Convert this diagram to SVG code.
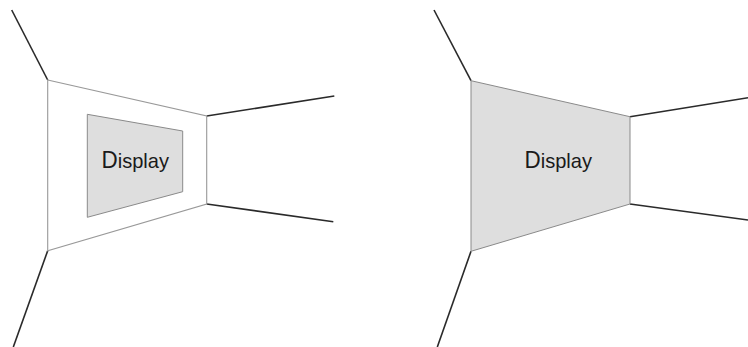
<svg xmlns="http://www.w3.org/2000/svg" width="748" height="347" viewBox="0 0 748 347">
<style>
.edge{stroke:#2a2a2a;stroke-width:1.6;fill:none}
.wall{stroke:#999;stroke-width:1.1;fill:#fff}
.screen{stroke:#8a8a8a;stroke-width:1;fill:#dedede}
.lbl{font-family:"Liberation Sans",Arial,sans-serif;font-size:21px;fill:#1a1a1a}
.cap{font-size:23.5px}
</style>
<rect width="748" height="347" fill="#fff"/>
<g id="left-room">
  <g id="left-edges">
    <line class="edge" x1="11.7" y1="10" x2="47.7" y2="80"/>
    <line class="edge" x1="47.7" y1="250.7" x2="13.3" y2="347"/>
    <line class="edge" x1="206.7" y1="116" x2="334.3" y2="96"/>
    <line class="edge" x1="206.7" y1="204" x2="333.3" y2="221.7"/>
  </g>
  <polygon id="left-wall" class="wall" points="47.7,80 206.7,116 206.7,204 47.7,250.7"/>
  <g id="left-display">
    <polygon class="screen" points="87.3,114.3 182.7,131 182.7,191.7 87.3,217.3"/>
    <text class="lbl" x="101.5" y="168.3" textLength="67.5" lengthAdjust="spacingAndGlyphs"><tspan class="cap">D</tspan>isplay</text>
  </g>
</g>
<g id="right-room">
  <g id="right-edges">
    <line class="edge" x1="434" y1="10" x2="471" y2="80.7"/>
    <line class="edge" x1="471" y1="251.3" x2="437.3" y2="347"/>
    <line class="edge" x1="630" y1="116.7" x2="748" y2="97.7"/>
    <line class="edge" x1="630" y1="204" x2="748" y2="220"/>
  </g>
  <g id="right-display">
    <polygon class="screen" points="471,80.7 630,116.7 630,204 471,251.3"/>
    <text class="lbl" x="524.5" y="168.3" textLength="67.5" lengthAdjust="spacingAndGlyphs"><tspan class="cap">D</tspan>isplay</text>
  </g>
</g>
</svg>
